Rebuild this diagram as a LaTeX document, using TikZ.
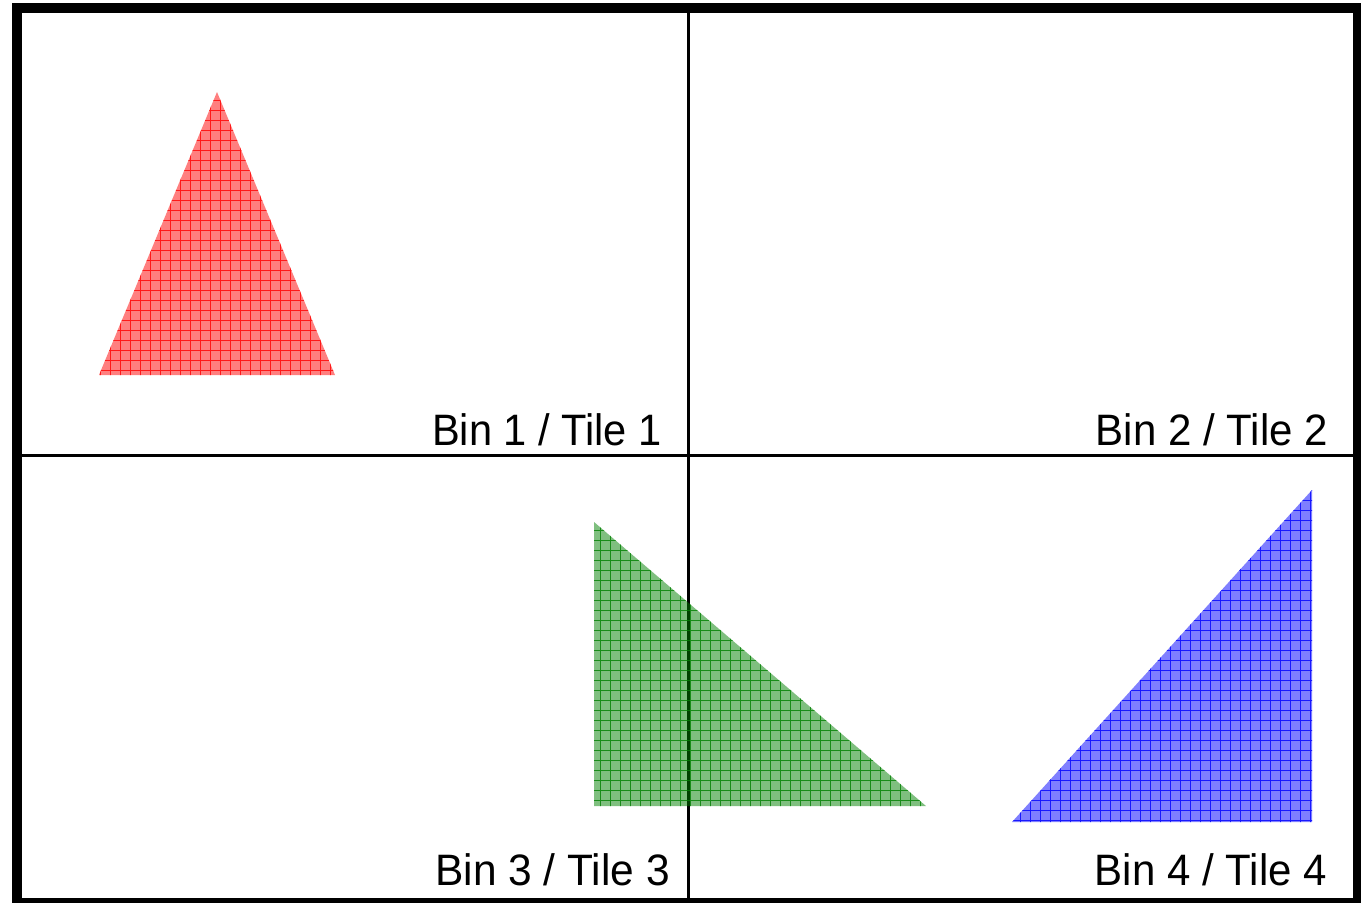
\documentclass[tikz,border=0pt]{standalone}
\usepackage{fontspec}
\setmainfont{Liberation Sans}
\newcommand\gridtri[4]{%
  \fill[#1, opacity=0.5] #2 -- #3 -- #4 -- cycle;
  \begin{scope}
    \clip #2 -- #3 -- #4 -- cycle;
    \draw[#1, line width=0.75pt, opacity=0.8, step=7.5pt] (0,0) grid (1361,903);
  \end{scope}}
\begin{document}
\begin{tikzpicture}[x=0.75pt,y=-0.75pt,
  lbl/.style={inner sep=0pt, anchor=base east, font=\fontsize{33}{40}\selectfont},
  divider/.style={line width=2pt, black},
  frame/.style={line width=7.5pt, black}]
\useasboundingbox (0,0) rectangle (1361,903);
\clip (0,0) rectangle (1361,903);
\fill[white] (0,0) rectangle (1361,903);
% dividers
\draw[divider] (688.5,13) -- (688.5,898);
\draw[divider] (22,455.5) -- (1353,455.5);
% triangles
\gridtri{red}{(217,92)}{(99,375)}{(335,375)}
\gridtri{green!50!black}{(594,522)}{(594,806)}{(926,806)}
\gridtri{blue}{(1012,822)}{(1312,822)}{(1312,490)}
% frame
\draw[frame] (17,8) rectangle (1358,903);
% labels
\node[lbl] (l1) at (662,445) {\scalebox{0.945}[1]{Bin 1 / Tile 1}};
\node[lbl] (l2) at (1328,445) {\scalebox{0.955}[1]{Bin 2 / Tile 2}};
\node[lbl] (l3) at (670,885) {\scalebox{0.965}[1]{Bin 3 / Tile 3}};
\node[lbl] (l4) at (1327,885) {\scalebox{0.955}[1]{Bin 4 / Tile 4}};
\end{tikzpicture}
\end{document}
